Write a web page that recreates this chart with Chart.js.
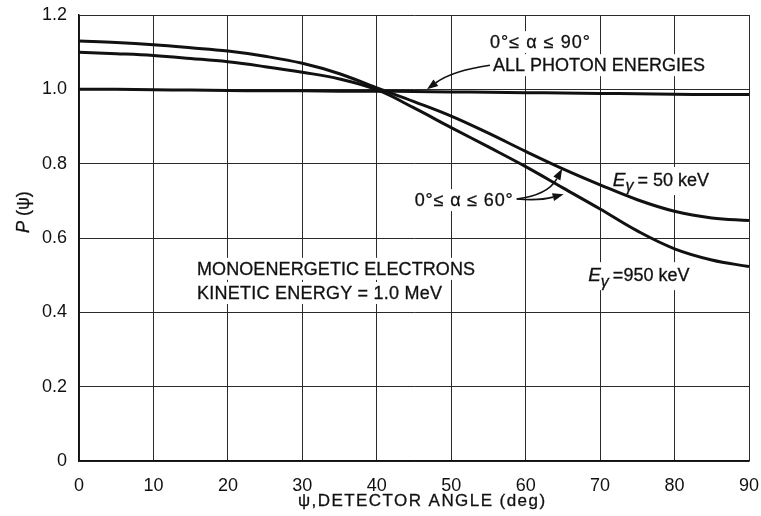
<!DOCTYPE html>
<html>
<head>
<meta charset="utf-8">
<script src="https://cdn.jsdelivr.net/npm/chart.js@4/dist/chart.umd.min.js"></script>
<style>
  html, body { margin: 0; padding: 0; background: #fff; }
  canvas { display: block; }
</style>
</head>
<body>
<canvas id="chart" width="761" height="516"></canvas>
<script>
// Detector angle ψ (deg)
const angles = [0, 5, 10, 15, 20, 25, 30, 35, 40, 45, 50, 55, 60, 65, 70, 75, 80, 85, 90];
// P(ψ), 0° ≤ α ≤ 60°, Eγ = 50 keV
const p50keV = [1.130, 1.126, 1.120, 1.112, 1.103, 1.089, 1.070, 1.042, 1.004, 0.967, 0.928, 0.882, 0.833, 0.786, 0.743, 0.703, 0.672, 0.654, 0.647];
// P(ψ), 0° ≤ α ≤ 60°, Eγ = 950 keV
const p950keV = [1.100, 1.096, 1.091, 1.083, 1.074, 1.061, 1.046, 1.028, 0.999, 0.950, 0.897, 0.845, 0.792, 0.735, 0.678, 0.619, 0.571, 0.541, 0.523];
// P(ψ), 0° ≤ α ≤ 90°, all photon energies
const pAllEnergies = [1.000, 1.000, 0.999, 0.998, 0.997, 0.996, 0.996, 0.995, 0.995, 0.994, 0.993, 0.992, 0.991, 0.990, 0.989, 0.988, 0.987, 0.986, 0.986];

const xTickStep = 10;
const yTickStep = 0.2;

const INK = '#111';
const FONT = '"Liberation Sans", Arial, Helvetica, sans-serif';

// Text notes on the plot: [angle, P] anchor is the left edge / vertical centre
const notes = [
  { text: '0°≤ α ≤ 90°', at: [55.2, 1.127], width: 100 },
  { text: 'ALL PHOTON ENERGIES', at: [55.6, 1.065], width: 212 },
  { text: '0°≤ α ≤ 60°', at: [45.1, 0.702], width: 98 },
  { text: 'MONOENERGETIC ELECTRONS', at: [15.85, 0.517], width: 278 },
  { text: 'KINETIC ENERGY = 1.0 MeV', at: [15.85, 0.452], width: 245 }
];
const energyNotes = [
  { value: '= 50 keV', at: [71.7, 0.756] },
  { value: '=950 keV', at: [68.4, 0.500] }
];
// Curved leader arrows: start, control, tip (data coordinates)
const arrows = [
  [[55.2, 1.065], [50.1, 1.050], [46.75, 1.000]],
  [[58.8, 0.705], [63.0, 0.716], [64.9, 0.786]],
  [[58.8, 0.705], [61.9, 0.700], [65.1, 0.718]]
];

function toPoints(ys) { return angles.map((a, i) => ({ x: a, y: ys[i] })); }

// filled + lightly stroked text, optionally spread to a given width
function ink(ctx, text, x, y, width) {
  ctx.letterSpacing = '0px';
  const w = ctx.measureText(text).width;
  const n = Array.from(text).length;
  if (width && n > 1) ctx.letterSpacing = ((width - w) / (n - 1)).toFixed(2) + 'px';
  ctx.fillText(text, x, y);
  ctx.lineWidth = 0.3;
  ctx.strokeText(text, x, y);
  ctx.letterSpacing = '0px';
}

function energyParts(ctx, note) {
  ctx.font = 'italic 19px ' + FONT;
  const wE = ctx.measureText('E').width;
  ctx.font = 'italic 16px ' + FONT;
  const wG = ctx.measureText('γ').width;
  ctx.font = '18px ' + FONT;
  const wV = ctx.measureText(note.value).width;
  return { wE, wG, wV, total: wE + wG + 4 + wV };
}

const notePlugin = {
  id: 'notes',
  beforeDatasetsDraw(chart) {
    // clear grid behind the lettering
    const { ctx, scales: { x, y } } = chart;
    ctx.save();
    ctx.fillStyle = '#fff';
    notes.forEach(n => {
      const px = x.getPixelForValue(n.at[0]);
      const py = y.getPixelForValue(n.at[1]);
      ctx.fillRect(px - 6, py - 11, n.width + 12, 22);
    });
    energyNotes.forEach(n => {
      const px = x.getPixelForValue(n.at[0]);
      const py = y.getPixelForValue(n.at[1]);
      const p = energyParts(ctx, n);
      ctx.fillRect(px - 8, py - 13, p.total + 16, 28);
    });
    ctx.restore();
  },
  afterDatasetsDraw(chart) {
    const { ctx, scales: { x, y } } = chart;
    ctx.save();
    ctx.fillStyle = INK;
    ctx.strokeStyle = INK;
    ctx.textBaseline = 'middle';
    ctx.textAlign = 'left';

    ctx.font = '18px ' + FONT;
    notes.forEach(n => {
      ink(ctx, n.text, x.getPixelForValue(n.at[0]), y.getPixelForValue(n.at[1]) + 1, n.width);
    });

    energyNotes.forEach(n => {
      const px = x.getPixelForValue(n.at[0]);
      const py = y.getPixelForValue(n.at[1]) + 1;
      const p = energyParts(ctx, n);
      ctx.font = 'italic 19px ' + FONT;
      ink(ctx, 'E', px, py);
      ctx.font = 'italic 16px ' + FONT;
      ink(ctx, 'γ', px + p.wE, py + 6);
      ctx.font = '18px ' + FONT;
      ink(ctx, n.value, px + p.wE + p.wG + 4, py);
    });

    // leader arrows
    arrows.forEach(([s, c, t]) => {
      const sx = x.getPixelForValue(s[0]), sy = y.getPixelForValue(s[1]);
      const cx = x.getPixelForValue(c[0]), cy = y.getPixelForValue(c[1]);
      const tx = x.getPixelForValue(t[0]), ty = y.getPixelForValue(t[1]);
      const ang = Math.atan2(ty - cy, tx - cx);
      const len = 11, half = 4;
      const bx = tx - len * Math.cos(ang), by = ty - len * Math.sin(ang);
      ctx.lineWidth = 1.6;
      ctx.beginPath();
      ctx.moveTo(sx, sy);
      ctx.quadraticCurveTo(cx, cy, bx, by);
      ctx.stroke();
      ctx.beginPath();
      ctx.moveTo(tx, ty);
      ctx.lineTo(bx + half * Math.sin(ang), by - half * Math.cos(ang));
      ctx.lineTo(bx - half * Math.sin(ang), by + half * Math.cos(ang));
      ctx.closePath();
      ctx.fill();
    });

    // axis titles
    ctx.font = '17px ' + FONT;
    ink(ctx, 'ψ,DETECTOR ANGLE (deg)', 298, 501, 247);

    ctx.translate(24, 216);
    ctx.rotate(-Math.PI / 2);
    ctx.font = 'italic 18px ' + FONT;
    const wP = ctx.measureText('P').width;
    ink(ctx, 'P', -17, 0);
    ctx.font = '18px ' + FONT;
    ink(ctx, ' (ψ)', -17 + wP, 0);
    ctx.restore();
  }
};

const curve = {
  borderColor: INK,
  borderWidth: 3,
  pointRadius: 0,
  fill: false,
  tension: 0.4
};

new Chart(document.getElementById('chart'), {
  type: 'line',
  data: {
    datasets: [
      Object.assign({ label: 'Eγ = 50 keV', data: toPoints(p50keV) }, curve),
      Object.assign({ label: 'Eγ = 950 keV', data: toPoints(p950keV) }, curve),
      Object.assign({ label: 'All photon energies', data: toPoints(pAllEnergies) }, curve)
    ]
  },
  options: {
    responsive: false,
    animation: false,
    layout: { padding: { left: 0, right: 12, top: 15, bottom: 0 } },
    plugins: { legend: { display: false }, tooltip: { enabled: false } },
    scales: {
      x: {
        type: 'linear',
        min: 0,
        max: 90,
        afterFit(scale) {
          scale.height = 55;
          scale.paddingLeft = 0;
          scale.paddingRight = 0;
        },
        ticks: { stepSize: xTickStep, color: INK, padding: 14, maxRotation: 0, font: { family: FONT, size: 18 } },
        grid: { color: '#2a2a2a', lineWidth: 1, drawTicks: false },
        border: { color: INK, width: 1.5 }
      },
      y: {
        min: 0,
        max: 1.2,
        afterFit(scale) {
          scale.width = 79;
          scale.paddingTop = 0;
          scale.paddingBottom = 0;
        },
        ticks: {
          stepSize: yTickStep,
          color: INK,
          padding: 12,
          font: { family: FONT, size: 18 },
          callback: v => (Math.abs(v) < 1e-9 ? '0' : Number(v).toFixed(1))
        },
        grid: { color: '#2a2a2a', lineWidth: 1, drawTicks: false },
        border: { color: INK, width: 1.5 }
      }
    }
  },
  plugins: [notePlugin]
});
</script>
</body>
</html>
